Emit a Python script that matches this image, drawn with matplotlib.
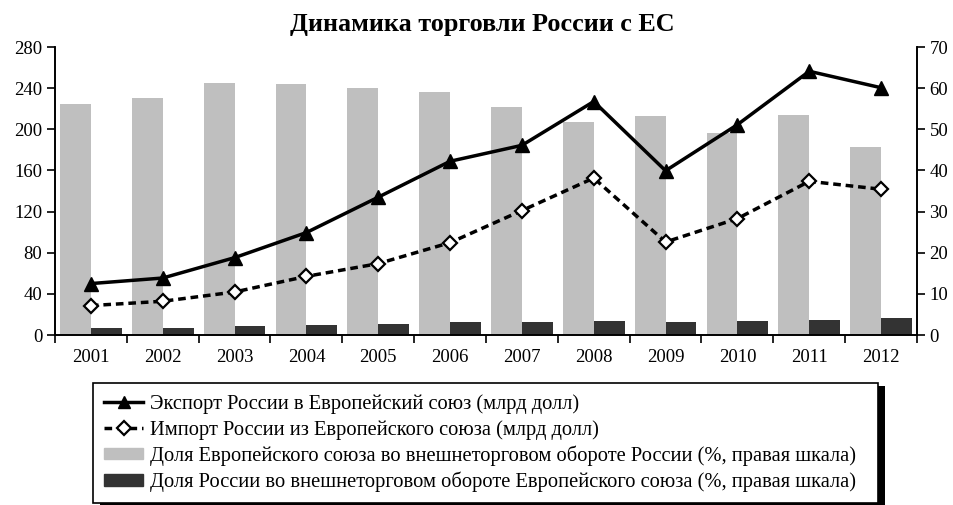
import matplotlib
matplotlib.use("Agg")
import matplotlib.pyplot as plt
import numpy as np
from matplotlib.patches import Rectangle
from matplotlib.lines import Line2D

plt.rcParams['font.family'] = ['Liberation Serif', 'DejaVu Serif']

years = ['2001', '2002', '2003', '2004', '2005', '2006', '2007', '2008', '2009', '2010', '2011', '2012']
export_eu = [50, 55.4, 75.2, 99.6, 134, 168.9, 184.4, 227, 159.7, 204.5, 256.4, 240.4]
import_eu = [28.6, 32.8, 41.8, 57, 69.4, 89.8, 121, 152.6, 90.4, 113.2, 149.4, 141.7]
eu_share = [56.1, 57.6, 61.3, 61.0, 60.0, 59.1, 55.4, 51.8, 53.2, 49.1, 53.5, 45.7]
ru_share = [1.7, 1.7, 2.1, 2.4, 2.6, 3.1, 3.1, 3.3, 3.1, 3.3, 3.6, 4.1]

title = 'Динамика торговли России с ЕС'
labels = ['Экспорт России в Европейский союз (млрд долл)',
          'Импорт России из Европейского союза (млрд долл)',
          'Доля Европейского союза во внешнеторговом обороте России (%, правая шкала)',
          'Доля России во внешнеторговом обороте Европейского союза (%, правая шкала)']

W, H = 954, 505
fig = plt.figure(figsize=(W / 100, H / 100), dpi=100)
ax = fig.add_axes([55 / W, 1 - 335 / H, (917 - 55) / W, (335 - 47) / H])
ax2 = ax.twinx()

x = np.arange(len(years))
bw = 0.43
b1 = ax2.bar(x, eu_share, width=-bw, align='edge', color='#bfbfbf', linewidth=0)
b2 = ax2.bar(x, ru_share, width=bw, align='edge', color='#333333', linewidth=0)

l1, = ax.plot(x, export_eu, color='black', lw=2.5, marker='^', markersize=10,
              markerfacecolor='black', markeredgecolor='black')
l2, = ax.plot(x, import_eu, color='black', lw=2.5, linestyle=(0, (2.2, 1.4)), marker='D',
              markersize=7.5, markerfacecolor='white', markeredgecolor='black', markeredgewidth=1.6)

ax.set_zorder(ax2.get_zorder() + 1)
ax.patch.set_visible(False)

ax.set_xlim(-0.5, 11.5)
ax.set_ylim(0, 280)
ax2.set_ylim(0, 70)
ax.set_yticks(np.arange(0, 281, 40))
ax2.set_yticks(np.arange(0, 71, 10))

ax.set_xticks(x)
ax.set_xticklabels(years)
ax.set_xticks(np.arange(-0.5, 12, 1), minor=True)
ax.tick_params(axis='x', which='major', length=0, pad=10, labelsize=13.5)
ax.tick_params(axis='x', which='minor', length=6, width=1.2, direction='out')
ax.tick_params(axis='y', length=6, width=1.2, direction='out', labelsize=13.5, pad=3)
ax2.tick_params(axis='y', length=6, width=1.2, direction='out', labelsize=13.5, pad=3)

for a in (ax, ax2):
    a.spines['top'].set_visible(False)
    for s in ('left', 'right', 'bottom'):
        a.spines[s].set_linewidth(1.2)

fig.text(482 / W, 1 - 25 / H, title, ha='center', va='center', fontsize=18.8, fontweight='bold')

h1 = Line2D([], [], color='black', lw=2.5, marker='^', markersize=9)
h2 = Line2D([], [], color='black', lw=2.5, linestyle=(0, (2.2, 1.4)), marker='D', markersize=7,
            markerfacecolor='white', markeredgecolor='black', markeredgewidth=1.6)
h3 = Rectangle((0, 0), 1, 1, color='#bfbfbf')
h4 = Rectangle((0, 0), 1, 1, color='#333333')

leg = fig.legend([h1, h2, h3, h4], labels, loc='upper left',
                 bbox_to_anchor=(93 / W, 1 - 502 / H, (878 - 93) / W, (502 - 383) / H),
                 bbox_transform=fig.transFigure, mode='expand',
                 fontsize=14.8, frameon=True, fancybox=False, shadow=False,
                 edgecolor='black', handlelength=1.9, handleheight=0.5, handletextpad=0.3,
                 labelspacing=0.28, borderpad=0.55, borderaxespad=0)
leg.get_frame().set_linewidth(1.2)
leg.get_frame().set_alpha(1)

fig.canvas.draw()
bb = leg.get_window_extent()
sh = Rectangle((bb.x0 + 7, bb.y0 - 3), bb.width, bb.height, transform=None,
               facecolor='black', edgecolor='none', zorder=leg.get_zorder() - 0.5)
fig.add_artist(sh)

fig.savefig('out.png', dpi=100)
